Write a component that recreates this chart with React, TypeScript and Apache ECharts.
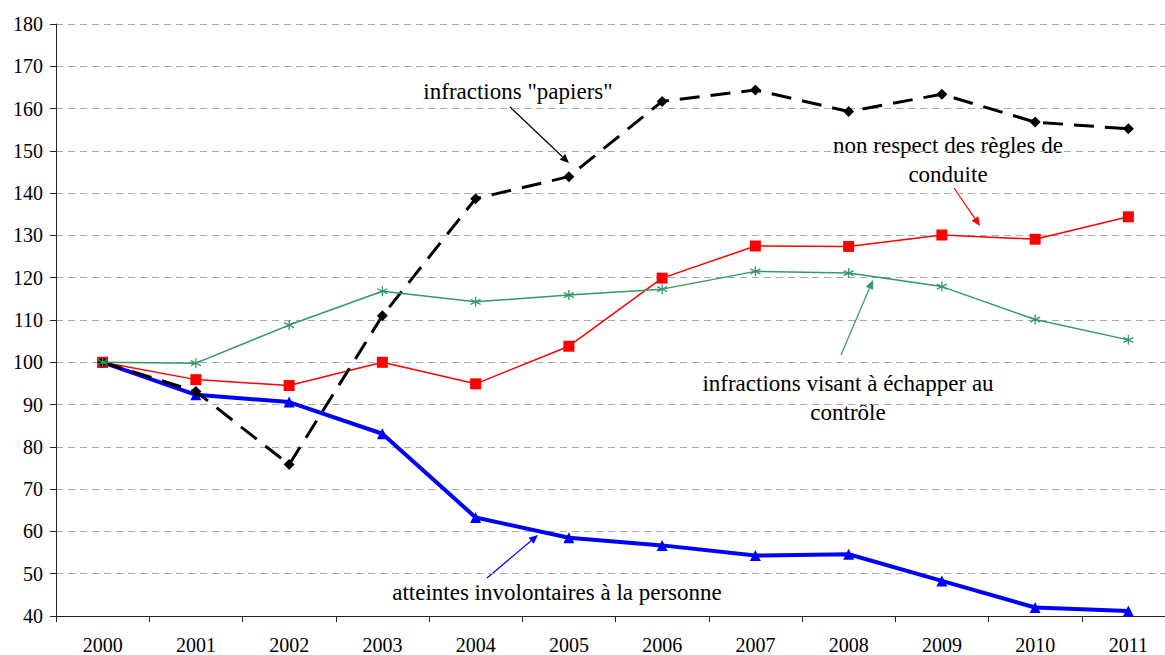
import React, { useEffect, useRef } from "react";
import * as echarts from "echarts";

const years = ["2000", "2001", "2002", "2003", "2004", "2005", "2006", "2007", "2008", "2009", "2010", "2011"];
const papiers = [100, 93.1, 75.8, 111.0, 138.7, 143.9, 161.7, 164.4, 159.3, 163.4, 156.8, 155.2];
const regles = [100, 95.9, 94.5, 100.0, 94.9, 103.8, 119.9, 127.5, 127.4, 130.1, 129.1, 134.4];
const controle = [100, 99.8, 108.8, 116.8, 114.3, 115.9, 117.3, 121.5, 121.1, 117.9, 110.1, 105.3];
const atteintes = [100, 92.3, 90.6, 83.1, 63.3, 58.5, 56.7, 54.3, 54.6, 48.3, 42.0, 41.2];
const yMin = 40;
const yMax = 180;
const yStep = 10;

const FONT = "Liberation Serif";

function arrow(x1: number, y1: number, x2: number, y2: number, color: string) {
  const dx = x2 - x1;
  const dy = y2 - y1;
  const len = Math.sqrt(dx * dx + dy * dy);
  const ux = dx / len;
  const uy = dy / len;
  const hl = 9;
  const hw = 4;
  const bx = x2 - ux * hl;
  const by = y2 - uy * hl;
  return [
    {
      type: "line",
      silent: true,
      shape: { x1, y1, x2: bx, y2: by },
      style: { stroke: color, lineWidth: 1.2 },
    },
    {
      type: "polygon",
      silent: true,
      shape: {
        points: [
          [x2, y2],
          [bx - uy * hw, by + ux * hw],
          [bx + uy * hw, by - ux * hw],
        ],
      },
      style: { fill: color },
    },
  ];
}

function label(text: string, x: number, y: number) {
  return {
    type: "text",
    silent: true,
    x,
    y,
    style: {
      text,
      fill: "#000",
      fontFamily: FONT,
      fontSize: 23,
      align: "center",
      verticalAlign: "middle",
    },
  };
}

export default function App() {
  const ref = useRef<HTMLDivElement>(null);
  useEffect(() => {
    if (!ref.current) return;
    const chart = echarts.init(ref.current, null, { renderer: "svg" });
    const green = "#339966";
    chart.setOption({
      animation: false,
      backgroundColor: "#fff",
      textStyle: { fontFamily: FONT },
      grid: { left: 56, right: 0, top: 24, bottom: 37, containLabel: false },
      xAxis: {
        type: "category",
        data: years,
        boundaryGap: true,
        axisLine: { lineStyle: { color: "#222", width: 1 } },
        axisTick: { show: true, interval: 0, length: 6, lineStyle: { color: "#222" } },
        axisLabel: { color: "#000", fontFamily: FONT, fontSize: 20, margin: 19, interval: 0 },
        splitLine: { show: false },
      },
      yAxis: {
        type: "value",
        min: yMin,
        max: yMax,
        interval: yStep,
        axisLine: { show: true, lineStyle: { color: "#222", width: 1 } },
        axisTick: { show: true, length: 6, lineStyle: { color: "#222" } },
        axisLabel: { color: "#000", fontFamily: FONT, fontSize: 20, margin: 13 },
        splitLine: { show: true, lineStyle: { color: "#a8a8a8", type: [7, 5], width: 1 } },
      },
      series: [
        {
          name: "atteintes involontaires à la personne",
          type: "line",
          data: atteintes,
          symbol: "triangle",
          symbolSize: 11,
          lineStyle: { color: "#0000ff", width: 4 },
          itemStyle: { color: "#0000ff" },
          z: 2,
        },
        {
          name: "non respect des règles de conduite",
          type: "line",
          data: regles,
          symbol: "rect",
          symbolSize: 11,
          lineStyle: { color: "#ff0000", width: 1.5 },
          itemStyle: { color: "#ff0000" },
          z: 3,
        },
        {
          name: "infractions \"papiers\"",
          type: "line",
          data: papiers,
          symbol: "diamond",
          symbolSize: 11,
          lineStyle: { color: "#000", width: 3, type: [20, 11] },
          itemStyle: { color: "#000" },
          z: 4,
        },
        {
          name: "infractions visant à échapper au contrôle",
          type: "line",
          data: controle,
          symbol: "path://M5,0L5,10M0.67,2.5L9.33,7.5M0.67,7.5L9.33,2.5",
          symbolSize: 10,
          lineStyle: { color: green, width: 1.5 },
          itemStyle: { color: green, borderColor: green, borderWidth: 1.3 },
          z: 5,
        },
      ],
      graphic: [
        label("infractions \"papiers\"", 518, 91),
        ...arrow(510, 107, 569, 163, "#000"),
        label("non respect des règles de", 948, 145),
        label("conduite", 948, 174),
        ...arrow(954, 188, 980, 226, "#ff0000"),
        label("infractions visant à échapper au", 848, 383),
        label("contrôle", 848, 412),
        ...arrow(841, 355, 873, 280, green),
        label("atteintes involontaires à la personne", 557, 592),
        ...arrow(487, 578, 538, 535, "#0000ff"),
      ],
    });
    return () => chart.dispose();
  }, []);
  return (
    <div style={{ position: "fixed", left: 0, top: 0, width: 1165, height: 655, overflow: "hidden", background: "#fff" }}>
      <div ref={ref} style={{ width: 1175, height: 655 }} />
    </div>
  );
}
